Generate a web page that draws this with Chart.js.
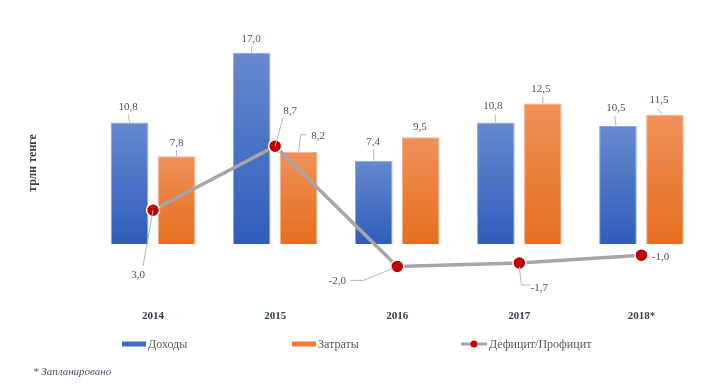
<!DOCTYPE html>
<html><head><meta charset="utf-8">
<script src="https://cdn.jsdelivr.net/npm/chart.js@4.4.0/dist/chart.umd.min.js"></script>
<style>html,body{margin:0;padding:0;background:#fff}canvas{display:block}</style>
</head><body>
<canvas id="c" width="720" height="390"></canvas>
<script>
// ---- data ----
const categories = ['2014', '2015', '2016', '2017', '2018*'];
const revenues = [10.8, 17.0, 7.4, 10.8, 10.5];
const expenses = [7.8, 8.2, 9.5, 12.5, 11.5];
const balance = [3.0, 8.7, -2.0, -1.7, -1.0];
const seriesNames = ['Доходы', 'Затраты', 'Дефицит/Профицит'];
const axisTitle = 'трлн тенге';
const footnote = '* Запланировано';

// ---- label placement (text offset from anchor, leader polyline) ----
const labelPlacement = [
  [ {dx:-1.5,dy:-15.5,lead:[[0,0],[-1,-8]]}, {dx:-0.5,dy:-14,lead:[[0,0],[0,-7]]},
    {dx:-0.5,dy:-19,lead:[[0,0],[0,-12]]}, {dx:-3,dy:-16.5,lead:[[0,0],[-1,-8]]},
    {dx:-2,dy:-18,lead:[[-2,0],[-3,-10]]} ],
  [ {dx:0,dy:-13,lead:[[0,0],[0,-6]]}, {dx:19.5,dy:-16,lead:[[0,0],[2,-17],[8,-17]]},
    {dx:-1,dy:-10,lead:null}, {dx:-2,dy:-14.5,lead:[[0,0],[0,-7]]},
    {dx:-6,dy:-14.5,lead:[[-3,0],[-7,-6]]} ],
  [ {dx:-15,dy:65,lead:[[0,0],[-10,56]]}, {dx:15,dy:-35,lead:[[0,0],[8,-29]]},
    {dx:-60,dy:14.5,lead:[[-4,2],[-34,14],[-47,14]]}, {dx:20,dy:25,lead:[[0,4],[2,22],[11,22]]},
    {dx:19,dy:2,lead:null} ]
];

const SERIF = '"Liberation Serif", "Times New Roman", serif';
const fmt = v => v.toFixed(1).replace('.', ',');

function barGradient(top, bottom) {
  return (ctx) => {
    const chart = ctx.chart;
    if (!chart.chartArea || ctx.type !== 'data' || !chart.scales.y) return bottom;
    const ys = chart.scales.y;
    const y0 = ys.getPixelForValue(ctx.raw), y1 = ys.getPixelForValue(0);
    if (!isFinite(y0) || !isFinite(y1) || y0 === y1) return bottom;
    const g = chart.ctx.createLinearGradient(0, y0, 0, y1);
    g.addColorStop(0, top); g.addColorStop(1, bottom);
    return g;
  };
}

const dataLabels = {
  id: 'dataLabels',
  afterDatasetsDraw(chart) {
    const ctx = chart.ctx;
    ctx.save();
    chart.data.datasets.forEach((ds, di) => {
      const meta = chart.getDatasetMeta(di);
      meta.data.forEach((el, i) => {
        const p = labelPlacement[di][i];
        const ax = el.x, ay = el.y;
        if (p.lead) {
          ctx.beginPath();
          ctx.strokeStyle = '#a9b8d0'; ctx.lineWidth = 1;
          p.lead.forEach((pt, k) => {
            const x = ax + pt[0], y = ay + pt[1];
            if (k === 0) ctx.moveTo(x, y); else ctx.lineTo(x, y);
          });
          ctx.stroke();
        }
        ctx.fillStyle = '#44546a';
        ctx.font = '11px ' + SERIF;
        ctx.textAlign = 'center'; ctx.textBaseline = 'middle';
        ctx.fillText(fmt(ds.data[i]), ax + p.dx, ay + p.dy);
      });
    });
    ctx.restore();
  }
};

const customLegend = {
  id: 'customLegend',
  afterDraw(chart, args, opts) {
    const ctx = chart.ctx;
    ctx.save();
    const y = opts.y;
    ctx.font = '12px ' + SERIF;
    ctx.textBaseline = 'middle'; ctx.textAlign = 'left';
    chart.data.datasets.forEach((ds, di) => {
      const x = opts.x[di];
      if (ds.type === 'line') {
        ctx.strokeStyle = ds.borderColor; ctx.lineWidth = 3;
        ctx.beginPath(); ctx.moveTo(x, y); ctx.lineTo(x + 26, y); ctx.stroke();
        ctx.fillStyle = ds.pointBackgroundColor;
        ctx.beginPath(); ctx.arc(x + 13, y, 3.5, 0, Math.PI * 2); ctx.fill();
        ctx.fillStyle = '#595959';
        ctx.fillText(ds.label, x + 28, y + 0.5);
      } else {
        ctx.fillStyle = ds.legendColor;
        ctx.fillRect(x, y - 2.5, 24, 5);
        ctx.fillStyle = '#595959';
        ctx.fillText(ds.label, x + 26, y + 0.5);
      }
    });
    ctx.font = 'italic 11px ' + SERIF;
    ctx.fillStyle = '#44546a';
    ctx.fillText(footnote, opts.noteX, opts.noteY);
    ctx.restore();
  }
};

new Chart(document.getElementById('c'), {
  data: {
    labels: categories,
    datasets: [
      { type: 'bar', label: seriesNames[0], data: revenues, order: 1,
        backgroundColor: barGradient('#6689cf', '#2e5dba'), legendColor: '#3f6bc4',
        borderColor: '#8aa6dc', borderWidth: 1, borderSkipped: 'bottom' },
      { type: 'bar', label: seriesNames[1], data: expenses, order: 1,
        backgroundColor: barGradient('#f0915a', '#e56f1e'), legendColor: '#ee7a30',
        borderColor: '#f5b08a', borderWidth: 1, borderSkipped: 'bottom' },
      { type: 'line', label: seriesNames[2], data: balance, order: 0,
        borderColor: '#a6a6a6', borderWidth: 3.5, tension: 0,
        pointBackgroundColor: '#c00000', pointBorderColor: '#ffffff',
        pointBorderWidth: 1.5, pointRadius: 6.5 }
    ]
  },
  options: {
    responsive: false,
    animation: false,
    devicePixelRatio: 1,
    categoryPercentage: 0.77,
    barPercentage: 0.8,
    layout: { padding: { top: 45, right: 17.5, bottom: 60, left: 26 } },
    plugins: {
      legend: { display: false },
      tooltip: { enabled: false },
      customLegend: { x: [122, 292, 461], y: 344, noteX: 33, noteY: 372 }
    },
    scales: {
      x: {
        grid: { display: false, drawTicks: false },
        border: { display: false },
        ticks: { padding: 28.5, color: '#333f4f', font: { family: SERIF, size: 11, weight: 'bold' } },
        afterFit(s) { s.height = 49; }
      },
      y: {
        min: -3.3, max: 17.7,
        ticks: { display: false, stepSize: 1 },
        border: { display: false },
        grid: { drawTicks: false, lineWidth: 1.5,
          color: c => (c.tick && c.tick.value === 0) ? '#d9d9d9' : 'rgba(0,0,0,0)' },
        title: { display: true, text: axisTitle, color: '#404040', padding: { top: 0, bottom: 0 },
          font: { family: SERIF, size: 12, weight: 'bold' } },
        afterFit(s) { s.width = 66; }
      }
    }
  },
  plugins: [dataLabels, customLegend]
});
</script>
</body></html>
